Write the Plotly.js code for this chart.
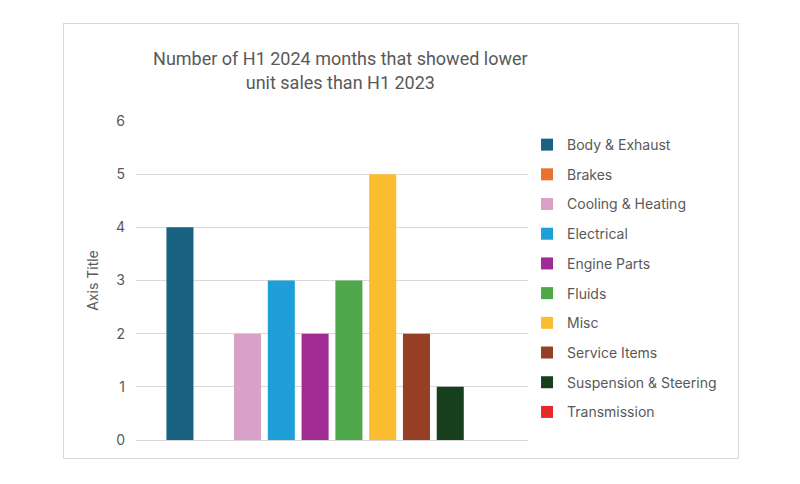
<!DOCTYPE html>
<html>
<head>
<meta charset="utf-8">
<script src="https://cdn.plot.ly/plotly-3.0.1.min.js"></script>
<style>
  html, body { margin: 0; padding: 0; background: #ffffff; }
  #frame { position: absolute; left: 63px; top: 23px; width: 674px; height: 434px; border: 1px solid #d9d9d9; background: #fff; }
  #chart { width: 674px; height: 434px; }
</style>
</head>
<body>
<div id="frame"><div id="chart"></div></div>
<script>
const categories = ["Body & Exhaust", "Brakes", "Cooling & Heating", "Electrical", "Engine Parts", "Fluids", "Misc", "Service Items", "Suspension & Steering", "Transmission"];
const values = [4, 0, 2, 3, 2, 3, 5, 2, 1, 0];
const colors = ["#1a6282", "#e97132", "#d9a1c8", "#1f9fd8", "#a02b93", "#4ea84a", "#fbbd30", "#973f24", "#173f1d", "#e8272a"];
const yTicks = [0, 1, 2, 3, 4, 5, 6];
const titleLines = ["Number of H1 2024 months that showed lower", "unit sales than H1 2023"];

const FONT = "Inter, 'Open Sans', sans-serif";
const TFONT = "Roboto, Inter, sans-serif";

const traces = categories.map((name, i) => ({
  type: 'bar',
  name: name,
  x: [''],
  y: [values[i]],
  legendgroup: 'g' + i,
  marker: { color: colors[i] },
  hoverinfo: 'name+y'
}));

const layout = {
  width: 674,
  height: 434,
  margin: { l: 72, r: 210, t: 97, b: 18, autoexpand: false },
  paper_bgcolor: '#ffffff',
  plot_bgcolor: '#ffffff',
  font: { family: FONT, color: '#595959', size: 14 },
  title: {
    text: titleLines.join('<br>'),
    font: { family: TFONT, size: 18, color: '#595959' },
    xref: 'container', x: 0.41, xanchor: 'center',
    yref: 'container', y: 0.905, yanchor: 'top'
  },
  barmode: 'group',
  bargap: 0.138,
  bargroupgap: 0.2,
  xaxis: {
    automargin: false,
    showticklabels: false,
    showgrid: false,
    zeroline: false,
    showline: false,
    ticks: ''
  },
  yaxis: {
    automargin: false,
    range: [0, 6],
    tickvals: yTicks,
    ticktext: yTicks.map(String),
    showgrid: true,
    gridcolor: '#d9d9d9',
    gridwidth: 1,
    zeroline: true,
    zerolinecolor: '#d9d9d9',
    zerolinewidth: 1,
    showline: false,
    ticks: '',
    ticklabelstandoff: 10,
    tickfont: { family: FONT, size: 14, color: '#595959' },
    title: { text: 'Axis Title', font: { family: FONT, size: 14, color: '#595959' }, standoff: 14 }
  },
  legend: {
    xref: 'container', x: 0.687, xanchor: 'left',
    yref: 'container', y: 0.758, yanchor: 'top',
    maxheight: 420,
    traceorder: 'grouped',
    tracegroupgap: 8.5,
    font: { family: FONT, size: 14, color: '#595959' },
    bgcolor: 'rgba(0,0,0,0)'
  },
  showlegend: true
};

Plotly.newPlot('chart', traces, layout, { displayModeBar: false, staticPlot: true });
</script>
</body>
</html>
